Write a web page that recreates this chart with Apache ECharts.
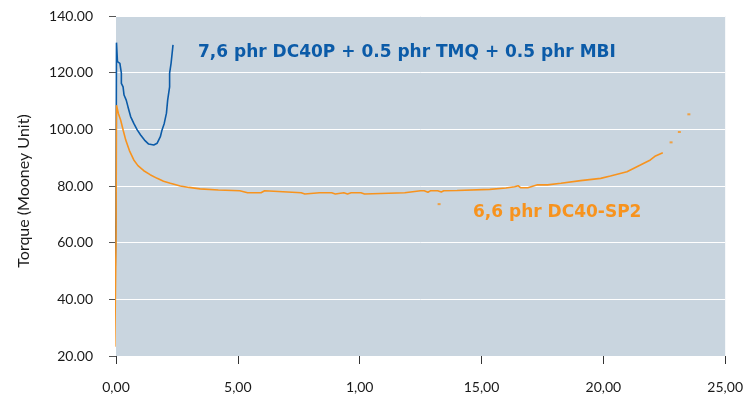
<!DOCTYPE html>
<html><head><meta charset="utf-8">
<script src="https://cdn.jsdelivr.net/npm/echarts@6/dist/echarts.min.js"></script>
<style>html,body{margin:0;padding:0;background:#fff}#c{width:746px;height:394px}</style>
</head><body><div id="c"></div>
<script>
// X tick labels (as printed in the original, including "1,00")
const xTickLabels = ['0,00', '5,00', '1,00', '15,00', '20,00', '25,00'];
const yTickValues = [20, 40, 60, 80, 100, 120, 140];

const yTitle = 'Torque (Mooney Unit)';
const blueName = '7,6 phr DC40P + 0.5 phr TMQ + 0.5 phr MBI';
const orangeName = '6,6 phr DC40-SP2';

// Blue curve: [time, torque]
const blueData = [
  [-0.05, 40.9], [0, 70], [0.02, 130.6], [0.06, 123.9], [0.16, 123.3], [0.22, 119.8], [0.22, 116.2],
  [0.29, 115.0], [0.33, 112.1], [0.42, 110.3], [0.49, 108.0], [0.60, 104.5], [0.73, 102.1],
  [0.87, 99.8], [1.01, 98.0], [1.17, 96.2], [1.34, 94.8], [1.55, 94.5], [1.69, 95.1],
  [1.82, 97.4], [1.89, 99.8], [1.98, 102.1], [2.07, 105.7], [2.12, 110.3], [2.20, 115.0],
  [2.20, 119.8], [2.26, 123.3], [2.34, 129.8]
];

// Orange curve: [time, torque]
const orangeData = [
  [-0.05, 23.3], [0, 60], [0.02, 108.5], [0.1, 105.5], [0.19, 103.3], [0.3, 99.5], [0.40, 96.2],
  [0.55, 92.5], [0.73, 89.2], [0.9, 87.2], [1.14, 85.4], [1.4, 84.0], [1.69, 82.7], [1.95, 81.7],
  [2.23, 81.0], [2.64, 80.0], [3.0, 79.5], [3.45, 79.0], [4.2, 78.6], [5.08, 78.3], [5.4, 77.6],
  [5.95, 77.6], [6.0, 78.3], [6.1, 78.3], [6.15, 77.6], [7.6, 77.6], [7.65, 77.2], [7.75, 77.2],
  [7.8, 77.6], [8.35, 77.6], [8.4, 77.2], [8.45, 77.6], [8.85, 77.6], [8.9, 77.2], [9.0, 77.2],
  [9.05, 77.6], [9.35, 77.6], [9.4, 77.2], [9.5, 77.2], [9.55, 77.6], [9.65, 77.6], [9.7, 77.2],
  [9.75, 77.6], [10.05, 77.6], [10.1, 77.2], [10.2, 77.2], [10.25, 77.6], [11.85, 77.6],
  [11.87, 78.3], [12.5, 78.3], [12.55, 77.8], [12.65, 78.3], [12.8, 77.8], [12.9, 78.3],
  [13.05, 78.3], [13.1, 77.8], [13.2, 78.3], [13.35, 77.9], [13.45, 78.3], [14.0, 78.4],
  [15.34, 78.8], [16.0, 79.3], [16.36, 79.75], [16.5, 80.1], [16.6, 79.4], [16.9, 79.4],
  [17.3, 80.45], [17.71, 80.4], [18.26, 80.95], [19.07, 81.9], [19.89, 82.7], [20.29, 83.5],
  [20.97, 85.0], [21.52, 87.4], [21.93, 89.2], [22.14, 90.6], [22.44, 91.75]
];
// Isolated orange points
const orangeDots = [[13.26, 73.6], [22.78, 95.4], [23.12, 99.05], [23.51, 105.3]];

const BLUE = '#0B5BA8';
const ORANGE = '#F7931E';
const FONT = 'Lato';
const LABEL_FONT = '"DejaVu Sans"';

const chart = echarts.init(document.getElementById('c'), null, {renderer: 'canvas'});
chart.setOption({
  animation: false,
  backgroundColor: '#ffffff',
  grid: {left: 116, right: 17, top: 16, bottom: 38, show: true, backgroundColor: '#C9D5DF', borderWidth: 0},
  xAxis: {
    type: 'value', min: 0, max: 25, interval: 5,
    axisLine: {show: false},
    axisTick: {show: true, length: 8, lineStyle: {color: '#333', width: 1}},
    splitLine: {show: false},
    axisLabel: {
      margin: 24, color: '#1a1a1a', fontFamily: FONT, fontSize: 14,
      formatter: v => xTickLabels[Math.round(v / 5)]
    }
  },
  yAxis: {
    type: 'value', min: yTickValues[0], max: yTickValues[yTickValues.length - 1], interval: 20,
    axisLine: {show: false},
    axisTick: {show: true, length: 7, lineStyle: {color: '#555', width: 1}},
    splitLine: {show: true, lineStyle: {color: '#ffffff', width: 1}},
    axisLabel: {margin: 23, color: '#1a1a1a', fontFamily: FONT, fontSize: 14, formatter: v => v.toFixed(2)}
  },
  series: [
    {type: 'line', name: blueName, data: blueData, showSymbol: false, symbol: 'none',
      lineStyle: {color: BLUE, width: 1.6}, z: 2},
    {type: 'line', name: orangeName, data: orangeData, showSymbol: false, symbol: 'none',
      lineStyle: {color: ORANGE, width: 1.6}, z: 3, clip: false},
    {type: 'scatter', data: orangeDots, symbol: 'rect', symbolSize: [3, 2],
      itemStyle: {color: ORANGE}, z: 3}
  ],
  graphic: [
    {type: 'text', x: 24, y: 191, rotation: Math.PI / 2,
      style: {text: yTitle, fill: '#1a1a1a', font: '16px ' + FONT, align: 'center', verticalAlign: 'middle'}},
    {type: 'text', left: 198, top: 44, style: {text: blueName, fill: BLUE,
      font: 'bold 17px ' + LABEL_FONT}},
    {type: 'text', left: 473, top: 204, style: {text: orangeName, fill: ORANGE,
      font: 'bold 17px ' + LABEL_FONT}}
  ]
});
</script>
</body></html>
